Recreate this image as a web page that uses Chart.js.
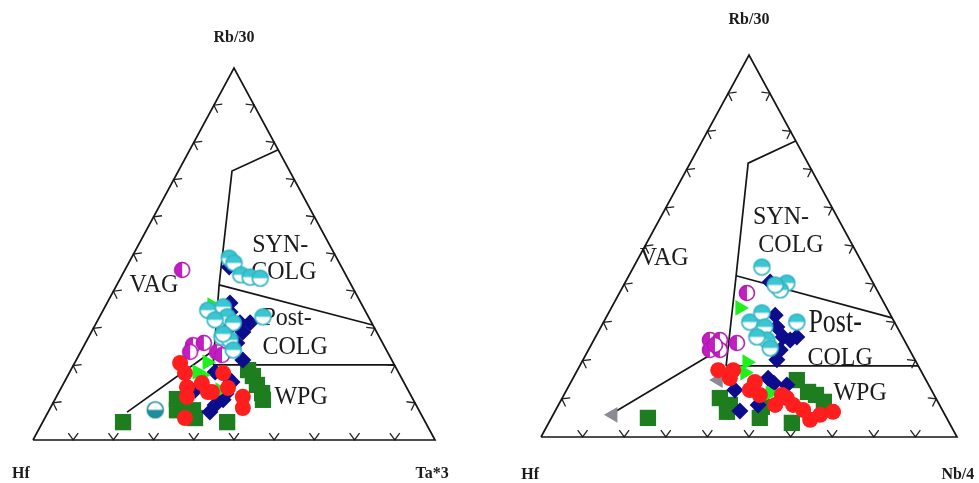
<!DOCTYPE html>
<html>
<head>
<meta charset="utf-8">
<script src="https://cdn.jsdelivr.net/npm/chart.js@4.4.0/dist/chart.umd.min.js"></script>
<style>
  body { margin: 0; background: #fff; }
  .box { position: absolute; top: 0; height: 483px; }
</style>
</head>
<body>
<div class="box" style="left:0;width:490px"><canvas id="leftChart"></canvas></div>
<div class="box" style="left:490px;width:489px"><canvas id="rightChart"></canvas></div>
<script>
// points as [x, y] in triangle units (x along the Hf base 0-100, y up to Rb/30 apex 0-100)

// Hf - Rb/30 - Ta*3
const leftCyan = [[48.8,48.9],[50.0,47.6],[51.7,44.4],[54.0,43.8],[56.5,43.5],[43.5,34.9],[47.3,35.8],[48.3,33.1],[49.8,31.5],[57.2,33.1],[47.0,27.7],[49.0,26.9],[49.8,24.2],[45.3,32.3],[47.3,28.5]];
const leftMagenta = [[37.1,45.7],[39.8,25.5],[42.5,26.1],[45.8,23.6],[47.0,22.8],[39.1,23.7]];
const leftTeal = [[30.4,8.1]];
const leftRed = [[36.6,20.7],[37.8,18.0],[38.3,14.2],[42.0,15.3],[43.5,12.9],[47.3,18.0],[52.2,11.6],[52.2,8.6],[37.8,5.9],[38.3,11.6],[44.5,12.9],[48.5,14.0]];
const leftLime = [[44.5,36.3],[43.3,20.9],[40.8,18.3],[46.5,13.4],[42.0,17.5]];
const leftBlue = [[48.8,46.5],[49.0,36.8],[49.0,34.4],[51.5,31.5],[54.0,31.5],[52.2,29.0],[48.3,29.6],[50.7,26.1],[52.2,21.5],[40.3,13.4],[45.3,18.3],[48.3,16.9],[49.5,15.6],[47.3,10.8],[44.0,7.5],[45.3,9.4],[48.0,12.4]];
const leftGreen = [[22.4,4.8],[35.8,11.0],[35.8,8.0],[39.8,8.0],[40.3,5.9],[48.3,4.8],[53.5,18.8],[54.7,17.2],[55.7,14.8],[57.0,12.6],[57.2,10.8]];

const leftUpper = [[61.0,78.0],[49.5,72.3],[46.3,41.7],[44.8,20.2]];
const leftMid = [[46.3,41.7],[84.5,30.9]];
const leftLow = [[44.8,20.2],[89.9,20.2]];
const leftVag = [[44.0,23.4],[23.4,7.5]];

// Hf - Rb/30 - Nb/4
const rightCyan = [[53.1,44.5],[59.1,40.3],[57.5,38.5],[50.2,30.1],[53.1,32.5],[53.8,28.8],[54.3,25.4],[55.1,23.3],[61.5,30.1],[51.9,26.2],[56.3,39.8]];
const rightMagenta = [[49.5,37.7],[40.6,25.4],[43.0,25.4],[47.1,24.6],[40.6,22.8],[43.0,22.8],[41.8,24.1]];
const rightRed = [[42.6,17.5],[46.2,17.5],[45.4,15.4],[50.2,12.3],[51.4,14.4],[56.3,8.4],[59.1,10.2],[60.6,8.4],[63.0,7.1],[64.7,4.5],[67.1,5.8],[70.2,6.6],[52.6,11.0],[57.9,11.0]];
const rightLime = [[47.8,33.8],[49.5,19.6],[49.0,16.8],[55.1,11.5]];
const rightBlue = [[55.1,40.6],[56.3,31.9],[56.7,28.8],[58.2,26.2],[59.9,25.4],[61.5,26.2],[57.5,22.8],[56.7,20.2],[46.6,12.3],[54.6,15.4],[56.0,14.1],[59.1,13.6],[52.2,8.4],[47.8,6.8]];
const rightGreen = [[43.0,10.2],[44.7,6.6],[52.6,5.0],[61.5,14.9],[64.2,11.8],[66.1,11.0],[68.0,9.2],[60.3,3.7],[25.7,5.0],[53.1,7.9],[45.4,8.4]];
const rightGrey = [[42.6,14.9],[17.3,5.8]];

const rightUpper = [[61.2,77.5],[49.8,71.7],[46.9,42.2],[44.5,18.6]];
const rightMid = [[46.9,42.2],[84.4,31.2]];
const rightLow = [[44.5,18.6],[90.7,18.6]];
const rightVag = [[44.7,24.1],[17.3,6.3]];

const frame = [[0,0],[50,100],[100,0],[0,0]];

const SERIF = '"Liberation Serif", "Times New Roman", serif';

function halfCircle(fill, edge, half, r) {
    const c = document.createElement('canvas');
    const s = Math.ceil(r * 2 + 3);
    c.width = s; c.height = s;
    const g = c.getContext('2d');
    const m = s / 2;
    g.beginPath(); g.arc(m, m, r, 0, Math.PI * 2); g.fillStyle = '#fff'; g.fill();
    g.beginPath();
    if (half == 'top') g.arc(m, m, r, Math.PI, Math.PI * 2);
    else if (half == 'left') g.arc(m, m, r, Math.PI / 2, Math.PI * 1.5);
    else g.arc(m, m, r, 0, Math.PI);
    g.closePath(); g.fillStyle = fill; g.fill();
    g.beginPath(); g.arc(m, m, r, 0, Math.PI * 2);
    g.lineWidth = 1.6; g.strokeStyle = edge; g.stroke();
    return c;
}

const cyanImg = halfCircle('#3cc6d2', '#2fb4c2', 'top', 8);
const magentaImg = halfCircle('#c21ec2', '#b21ab2', 'left', 7.5);
const tealImg = halfCircle('#1f8e9c', '#1f8e9c', 'bottom', 8);

const xy = arr => arr.map(p => ({ x: p[0], y: p[1] }));

function lineSet(arr, width) {
    return { type: 'scatter', data: xy(arr), showLine: true, borderColor: '#151515', borderWidth: width,
             pointRadius: 0, fill: false, clip: false };
}

function pointSet(arr, style, color, radius, rotation) {
    return { type: 'scatter', data: xy(arr), pointStyle: style, pointRadius: radius, pointRotation: rotation || 0,
             backgroundColor: color, borderColor: color, borderWidth: 0, clip: false };
}

// triangle ticks and the text, drawn through the scales
const ternaryDecor = {
    id: 'ternaryDecor',
    beforeDatasetsDraw(chart, args, opts) {
        const ctx = chart.ctx;
        const sx = chart.scales.x, sy = chart.scales.y;
        const P = (a, b) => [sx.getPixelForValue(a), sy.getPixelForValue(b)];
        const A = P(0, 0), B = P(100, 0), C = P(50, 100);
        const mid = [(A[0] + B[0] + C[0]) / 3, (A[1] + B[1] + C[1]) / 3];

        ctx.save();
        ctx.strokeStyle = '#222';
        ctx.lineWidth = 1.3;
        [[A, B], [A, C], [B, C]].forEach(([p, q]) => {
            let dx = q[0] - p[0], dy = q[1] - p[1];
            const len = Math.hypot(dx, dy);
            dx /= len; dy /= len;
            let nx = -dy, ny = dx;
            const cx = (p[0] + q[0]) / 2, cy = (p[1] + q[1]) / 2;
            if ((mid[0] - cx) * nx + (mid[1] - cy) * ny < 0) { nx = -nx; ny = -ny; }
            const L = 8.5, ca = Math.cos(0.62), sa = Math.sin(0.62);
            for (let i = 1; i < 10; i++) {
                const vx = p[0] + (q[0] - p[0]) * i / 10, vy = p[1] + (q[1] - p[1]) * i / 10;
                ctx.beginPath();
                ctx.moveTo(vx + L * (nx * ca + dx * sa), vy + L * (ny * ca + dy * sa));
                ctx.lineTo(vx, vy);
                ctx.lineTo(vx + L * (nx * ca - dx * sa), vy + L * (ny * ca - dy * sa));
                ctx.stroke();
            }
        });

        ctx.fillStyle = '#1c1c1c';
        ctx.textAlign = 'center';
        ctx.textBaseline = 'middle';
        opts.labels.forEach(l => {
            const [px, py] = P(l.x, l.y);
            ctx.save();
            ctx.translate(px, py);
            ctx.scale(1, l.stretch || 1.08);
            ctx.font = l.font;
            ctx.fillText(l.text, 0, 0);
            ctx.restore();
        });
        ctx.restore();
    }
};

function makeChart(id, padding, lines, points, labels) {
    const datasets = points.concat([lineSet(frame, 1.7)], lines.map(l => lineSet(l, 1.7)));
    return new Chart(document.getElementById(id), {
        type: 'scatter',
        data: { datasets: datasets },
        options: {
            responsive: true,
            maintainAspectRatio: false,
            animation: false,
            layout: { padding: padding },
            scales: {
                x: { type: 'linear', min: 0, max: 100, display: false },
                y: { type: 'linear', min: 0, max: 100, display: false }
            },
            plugins: {
                legend: { display: false },
                tooltip: { enabled: false },
                ternaryDecor: { labels: labels }
            }
        },
        plugins: [ternaryDecor]
    });
}

const region = '24px ' + SERIF;
const corner = 'bold 16px ' + SERIF;

makeChart('leftChart', { left: 33, right: 55, top: 68, bottom: 43 },
    [leftUpper, leftMid, leftLow, leftVag],
    [
        pointSet(leftCyan, cyanImg, '#3cc6d2', 8),
        pointSet(leftMagenta, magentaImg, '#c21ec2', 7.5),
        pointSet(leftRed, 'circle', '#ff1e1e', 8),
        pointSet(leftLime, 'triangle', '#1ef01e', 9, 90),
        pointSet(leftBlue, 'rectRot', '#0c0c8c', 8.5),
        pointSet(leftGreen, 'rect', '#1e7d1e', 11.5),
        pointSet(leftTeal, tealImg, '#1f8e9c', 8)
    ],
    [
        { text: 'VAG', x: 30.1, y: 41.7, font: region },
        { text: 'SYN-', x: 61.5, y: 52.4, font: region },
        { text: 'COLG', x: 62.4, y: 45.2, font: region },
        { text: 'Post-', x: 63.2, y: 32.8, font: region },
        { text: 'COLG', x: 65.2, y: 25.0, font: region },
        { text: 'WPG', x: 66.7, y: 11.6, font: region },
        { text: 'Rb/30', x: 50, y: 108.3, font: corner },
        { text: 'Hf', x: -3.0, y: -9.1, font: corner },
        { text: 'Ta*3', x: 99.3, y: -9.1, font: corner }
    ]);

makeChart('rightChart', { left: 51, right: 22, top: 55, bottom: 46 },
    [rightUpper, rightMid, rightLow, rightVag],
    [
        pointSet(rightCyan, cyanImg, '#3cc6d2', 8),
        pointSet(rightMagenta, magentaImg, '#c21ec2', 7.5),
        pointSet(rightRed, 'circle', '#ff1e1e', 8),
        pointSet(rightLime, 'triangle', '#1ef01e', 9, 90),
        pointSet(rightBlue, 'rectRot', '#0c0c8c', 8.5),
        pointSet(rightGreen, 'rect', '#1e7d1e', 11.5),
        pointSet(rightGrey, 'triangle', '#8c8a94', 9, -90)
    ],
    [
        { text: 'VAG', x: 29.6, y: 46.9, font: region },
        { text: 'SYN-', x: 57.7, y: 57.6, font: region },
        { text: 'COLG', x: 60.1, y: 50.3, font: region },
        { text: 'Post-', x: 70.7, y: 29.8, font: '26px ' + SERIF, stretch: 1.28 },
        { text: 'COLG', x: 71.9, y: 20.7, font: region },
        { text: 'WPG', x: 76.7, y: 11.5, font: region },
        { text: 'Rb/30', x: 50, y: 109.4, font: corner },
        { text: 'Hf', x: -2.6, y: -9.7, font: corner },
        { text: 'Nb/4', x: 100.2, y: -9.7, font: corner }
    ]);
</script>
</body>
</html>
